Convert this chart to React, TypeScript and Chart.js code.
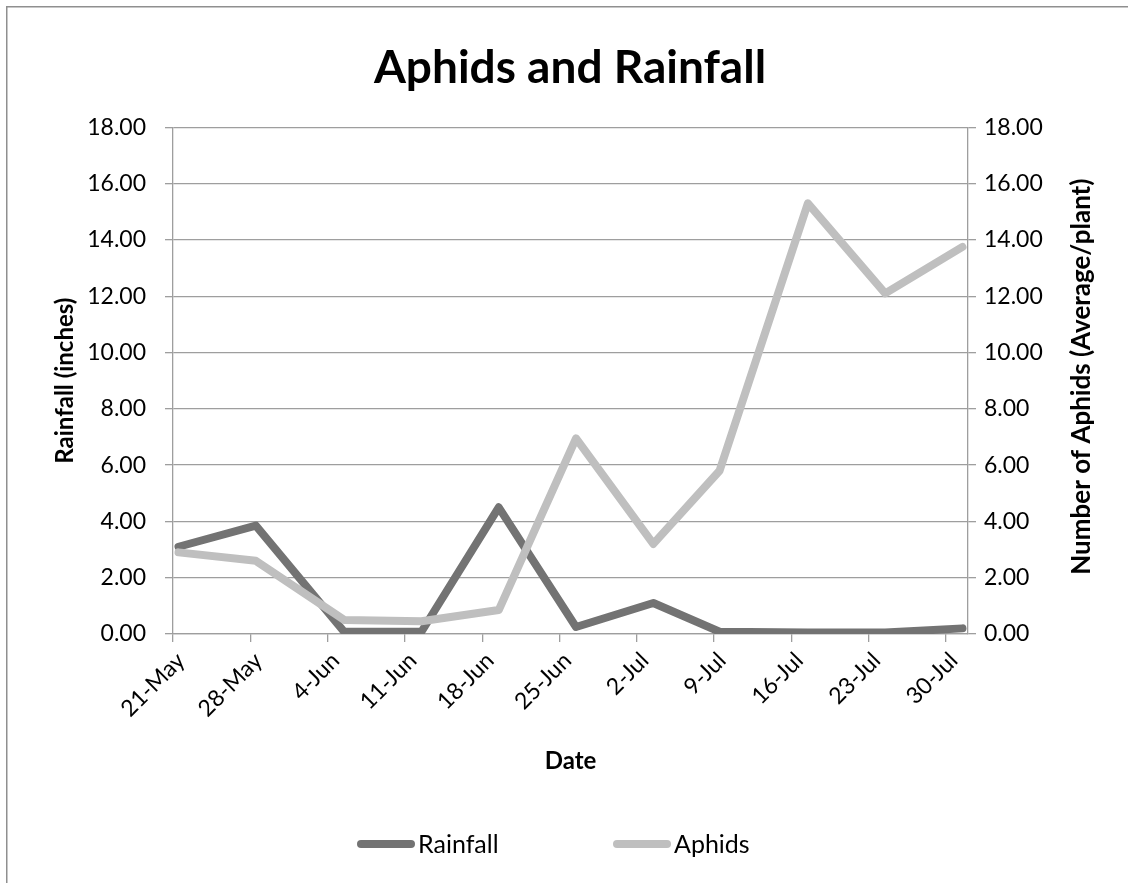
import React, { useEffect, useRef } from 'react';
import { Chart, registerables } from 'chart.js';

Chart.register(...registerables);

// Sampling dates and the two measured series
const sampleDates = ['21-May', '28-May', '5-Jun', '12-Jun', '19-Jun', '26-Jun', '3-Jul', '9-Jul', '17-Jul', '24-Jul', '31-Jul'];
const rainfall = [3.1, 3.85, 0.08, 0.08, 4.5, 0.25, 1.1, 0.08, 0.05, 0.05, 0.2];
const aphids = [2.9, 2.6, 0.5, 0.45, 0.85, 6.95, 3.2, 5.8, 15.3, 12.1, 13.75];

// Weekly date ticks along the bottom axis
const xTickLabels = ['21-May', '28-May', '4-Jun', '11-Jun', '18-Jun', '25-Jun', '2-Jul', '9-Jul', '16-Jul', '23-Jul', '30-Jul'];
const axisFirstDay = '21-May';
const axisLastDay = '31-Jul';

const FONT = 'Lato, "Open Sans", sans-serif';
const RAIN_COLOR = '#737373';
const APHID_COLOR = '#bfbfbf';
const GRID_COLOR = '#9e9e9e';
const FRAME_COLOR = '#8f8f8f';

const MONTH_START: Record<string, number> = { May: 0, Jun: 31, Jul: 61, Aug: 92 };

// Days since the first axis day
function dayIndex(label: string): number {
  const [d, m] = label.split('-');
  const [d0, m0] = axisFirstDay.split('-');
  return MONTH_START[m] + Number(d) - (MONTH_START[m0] + Number(d0));
}

// Each date covers one day on the axis; ticks sit on the day boundaries
const xTickValues = xTickLabels.map((l) => dayIndex(l) - 0.5);

const framePlugin = {
  id: 'frame',
  beforeDraw(chart: Chart) {
    const { ctx, width, height } = chart;
    ctx.save();
    ctx.fillStyle = '#ffffff';
    ctx.fillRect(0, 0, width, height);
    ctx.strokeStyle = FRAME_COLOR;
    ctx.lineWidth = 1.5;
    ctx.beginPath();
    ctx.moveTo(6.75, height);
    ctx.lineTo(6.75, 6.75);
    ctx.lineTo(width, 6.75);
    ctx.stroke();
    ctx.restore();
  },
};

const rightTitlePlugin = {
  id: 'rightTitle',
  afterDraw(chart: Chart) {
    const { ctx, chartArea } = chart;
    ctx.save();
    ctx.translate(1082, (chartArea.top + chartArea.bottom) / 2 - 4);
    ctx.rotate(-Math.PI / 2);
    ctx.font = `bold 26px ${FONT}`;
    ctx.fillStyle = '#000';
    ctx.textAlign = 'center';
    ctx.textBaseline = 'middle';
    ctx.fillText('Number of Aphids (Average/plant)', 0, 0);
    ctx.restore();
  },
};

const legendPlugin = {
  id: 'bottomLegend',
  afterDraw(chart: Chart) {
    const { ctx } = chart;
    const y = 844;
    const starts = [361, 617];
    ctx.save();
    ctx.font = `25px ${FONT}`;
    ctx.textBaseline = 'middle';
    ctx.textAlign = 'left';
    chart.data.datasets.forEach((ds: any, i: number) => {
      const x = starts[i];
      ctx.strokeStyle = ds.borderColor;
      ctx.lineWidth = 8;
      ctx.lineCap = 'round';
      ctx.beginPath();
      ctx.moveTo(x, y);
      ctx.lineTo(x + 50, y);
      ctx.stroke();
      ctx.fillStyle = '#000';
      ctx.fillText(ds.label, x + 57, y + 1);
    });
    ctx.restore();
  },
};

export default function App() {
  const ref = useRef<HTMLCanvasElement>(null);

  useEffect(() => {
    const canvas = ref.current;
    if (!canvas) return;
    const tickFont = { family: FONT, size: 23 };
    const titleFont = { family: FONT, size: 24, weight: 'bold' as const };
    const chart = new Chart(canvas, {
      type: 'line',
      data: {
        datasets: [
          {
            label: 'Rainfall',
            data: sampleDates.map((d, i) => ({ x: dayIndex(d), y: rainfall[i] })),
            borderColor: RAIN_COLOR,
            backgroundColor: RAIN_COLOR,
            borderWidth: 8,
            pointRadius: 0,
            borderJoinStyle: 'round',
            borderCapStyle: 'round',
            tension: 0,
            yAxisID: 'y',
            order: 1,
          },
          {
            label: 'Aphids',
            data: sampleDates.map((d, i) => ({ x: dayIndex(d), y: aphids[i] })),
            borderColor: APHID_COLOR,
            backgroundColor: APHID_COLOR,
            borderWidth: 8,
            pointRadius: 0,
            borderJoinStyle: 'round',
            borderCapStyle: 'round',
            tension: 0,
            yAxisID: 'y2',
            order: 0,
          },
        ],
      },
      options: {
        responsive: false,
        animation: false,
        layout: { padding: { left: 12, right: 0, top: 0, bottom: 0 } },
        plugins: {
          legend: { display: false },
          tooltip: { enabled: false },
          title: {
            display: true,
            text: 'Aphids and Rainfall',
            color: '#000',
            font: { family: FONT, size: 46, weight: 'bold' },
            padding: { top: 40.4, bottom: 31.7 },
          },
        },
        scales: {
          x: {
            type: 'linear',
            min: dayIndex(axisFirstDay) - 0.5,
            max: dayIndex(axisLastDay) + 0.5,
            afterBuildTicks: (scale: any) => {
              scale.ticks = xTickValues.map((v) => ({ value: v }));
            },
            afterFit: (scale: any) => {
              scale.height = 249;
            },
            ticks: {
              autoSkip: false,
              maxRotation: 45,
              minRotation: 45,
              color: '#000',
              font: tickFont,
              padding: 5,
              labelOffset: 8,
              callback: (_v: any, i: number) => xTickLabels[i],
            },
            grid: { drawOnChartArea: false, color: GRID_COLOR, tickLength: 8, lineWidth: 1.3 },
            border: { color: GRID_COLOR, width: 1.3 },
            title: {
              display: true,
              text: 'Date',
              color: '#000',
              font: titleFont,
              padding: { top: 0, bottom: 107 },
            },
          },
          y: {
            position: 'left',
            min: 0,
            max: 18,
            afterFit: (scale: any) => {
              scale.width = 161;
            },
            ticks: {
              stepSize: 2,
              color: '#000',
              font: tickFont,
              padding: 19,
              callback: (v: any) => Number(v).toFixed(2),
            },
            grid: { color: GRID_COLOR, tickLength: 8, lineWidth: 1.3 },
            border: { color: GRID_COLOR, width: 1.3 },
            title: {
              display: true,
              text: 'Rainfall (inches)',
              color: '#000',
              font: titleFont,
              padding: { top: 38.6, bottom: 0 },
            },
          },
          y2: {
            position: 'right',
            min: 0,
            max: 18,
            afterFit: (scale: any) => {
              scale.width = 160;
            },
            ticks: {
              stepSize: 2,
              color: '#000',
              font: tickFont,
              padding: 8,
              callback: (v: any) => Number(v).toFixed(2),
            },
            grid: { drawOnChartArea: false, color: GRID_COLOR, tickLength: 8, lineWidth: 1.3 },
            border: { color: GRID_COLOR, width: 1.3 },
          },
        },
      },
      plugins: [framePlugin, rightTitlePlugin, legendPlugin],
    });
    return () => chart.destroy();
  }, []);

  return (
    <div style={{ position: 'absolute', left: 0, top: 0, width: 1128, height: 883, background: '#fff' }}>
      <canvas ref={ref} width={1128} height={883} style={{ display: 'block' }} />
    </div>
  );
}
